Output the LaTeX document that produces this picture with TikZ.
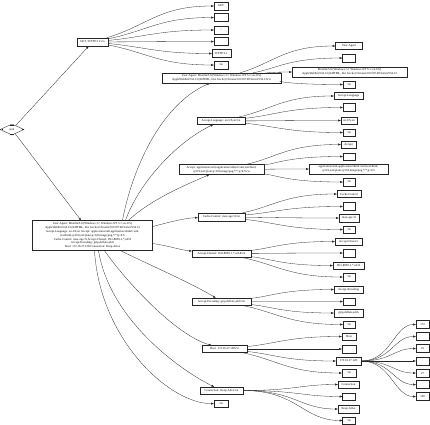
\documentclass[tikz,border=0pt]{standalone}
\usepackage{fontspec}
\setmainfont{Liberation Serif}
\usetikzlibrary{arrows.meta,shapes.geometric,calc}
\newcommand\crlfx{\textbackslash r\textbackslash n}
\newcommand\bx[6]{\node[box,minimum width=#4pt,minimum height=#5pt] (#1) at (#2,#3) {#6};}
\newcommand\conn[2]{\draw[edge] (#1) .. controls ($(#1)!0.45!(#2.west)$) and ($(#2.west)!0.45!(#1 |- #2.west)$) .. (#2.west);}
\newcommand\connh[2]{\draw[edge] (#1.east) .. controls ($(#1.east)!0.55!(#2.west |- #1.east)$) and ($(#2.west)!0.4!(#1.east |- #2.west)$) .. (#2.west);}
\begin{document}
\begin{tikzpicture}[x=1pt,y=-1pt,
  box/.style={draw=black!85, rectangle, line width=0.35pt, inner sep=0.6pt, font=\fontsize{3}{3.8}\selectfont, align=center},
  edge/.style={draw=black!85, line width=0.3pt, -{Triangle[length=2.6pt,width=1.9pt]}}]
\useasboundingbox (0,0) rectangle (430,424);
% root
\node[diamond, draw=black!85, line width=0.35pt, minimum width=24pt, minimum height=11pt, inner sep=0pt, font=\fontsize{3}{3.8}\selectfont] (root) at (12,129.5) {start};
\draw[line width=0.35pt, black!85] ($(root.west)+(2,-0.9)$) -- ($(root.west)+(2,0.9)$);
\draw[line width=0.35pt, black!85] ($(root.east)+(-2,-0.9)$) -- ($(root.east)+(-2,0.9)$);
\draw[line width=0.35pt, black!85] ($(root.north)+(-2.1,1)$) -- ($(root.north)+(2.1,1)$);
\draw[line width=0.35pt, black!85] ($(root.south)+(-2.1,-1)$) -- ($(root.south)+(2.1,-1)$);
% request line
\bx{get}{92.5}{42}{31}{8}{GET / HTTP/1.1\crlfx}
\bx{g1}{221}{6}{14}{8}{GET}
\bx{g2}{221}{17.5}{14}{8}{}
\bx{g3}{221}{30}{14}{8}{/}
\bx{g4}{221}{41.5}{14}{8}{}
\bx{g5}{221.5}{53.5}{19}{8}{HTTP/1.1}
\bx{g6}{221}{65}{14}{8}{\crlfx}
% headers
\bx{hdr}{92.5}{235.5}{120}{30}{User-Agent: Mozilla/5.0 (Windows; U; Windows NT 5.1; en-US)\\
AppleWebKit/534.13 (KHTML, like Gecko) Chrome/9.0.597.98 Safari/534.13\\
Accept-Language: en-US,en Accept: application/xml,application/xhtml+xml,\\
text/html;q=0.9,text/plain;q=0.8,image/png,*/*;q=0.5\\
Cache-Control: max-age=0 Accept-Charset: ISO-8859-1,*,utf-8\\
Accept-Encoding: gzip,deflate,sdch\\
Host: 172.16.27.128 Connection: Keep-Alive}
% rank 2 header nodes
\bx{ua}{221.5}{78}{119}{10}{User-Agent: Mozilla/5.0 (Windows; U; Windows NT 5.1; en-US)\\AppleWebKit/534.13 (KHTML, like Gecko) Chrome/9.0.597.98 Safari/534.13\crlfx}
\bx{al}{221}{121}{48}{7}{Accept-Language: en-US,en\crlfx}
\bx{acc}{221.5}{169.5}{85}{10}{Accept: application/xml,application/xhtml+xml,text/html;\\q=0.9,text/plain;q=0.8,image/png,*/*;q=0.5\crlfx}
\bx{cc}{221.5}{217}{47}{8}{Cache-Control: max-age=0\crlfx}
\bx{achs}{221.5}{253.5}{59}{7}{Accept-Charset: ISO-8859-1,*,utf-8\crlfx}
\bx{ae}{221.5}{301.5}{59}{7}{Accept-Encoding: gzip,deflate,sdch\crlfx}
\bx{host}{224.5}{349}{45}{7}{Host: 172.16.27.128\crlfx}
\bx{cn}{221.5}{390.5}{43}{7}{Connection: Keep-Alive\crlfx}
\bx{hcrlf}{221}{403.5}{14}{7}{\crlfx}
% rank 3
\bx{ua1}{349}{46}{27}{7}{User-Agent}
\bx{ua2}{349}{58}{13}{8}{}
\bx{ua3}{349.5}{72}{115}{10}{Mozilla/5.0 (Windows; U; Windows NT 5.1; en-US)\\AppleWebKit/534.13 (KHTML, like Gecko) Chrome/9.0.597.98 Safari/534.13}
\bx{ua4}{349}{84.5}{12}{7}{\crlfx}
\bx{al1}{348.5}{96}{29}{7}{Accept-Language}
\bx{al2}{349}{107.5}{12}{8}{}
\bx{al3}{349}{120.5}{16}{7}{en-US,en}
\bx{al4}{349}{132.5}{12}{7}{\crlfx}
\bx{ac1}{348.5}{144.5}{15}{7}{Accept}
\bx{ac2}{349}{156.5}{12}{7}{}
\bx{ac3}{348.5}{169}{79}{10}{application/xml,application/xhtml+xml,text/html;\\q=0.9,text/plain;q=0.8,image/png,*/*;q=0.5}
\bx{ac4}{349}{182}{12}{8}{\crlfx}
\bx{cc1}{349}{194}{24}{7}{Cache-Control}
\bx{cc2}{349}{206.5}{12}{8}{}
\bx{cc3}{349}{218}{20}{8}{max-age=0}
\bx{cc4}{349}{229.5}{12}{7}{\crlfx}
\bx{ach1}{348.5}{241.5}{27}{7}{Accept-Charset}
\bx{ach2}{349}{253}{12}{8}{}
\bx{ach3}{348.5}{265.5}{31}{7}{ISO-8859-1,*,utf-8}
\bx{ach4}{349}{277}{12}{8}{\crlfx}
\bx{ae1}{348.5}{289.5}{29}{7}{Accept-Encoding}
\bx{ae2}{349}{301.5}{12}{7}{}
\bx{ae3}{348.5}{313}{29}{8}{gzip,deflate,sdch}
\bx{ae4}{349}{324.5}{12}{7}{\crlfx}
\bx{h1}{349}{336.5}{14}{7}{Host}
\bx{h2}{349}{349}{14}{8}{}
\bx{ip}{348.5}{361}{25}{8}{172.16.27.128}
\bx{h4}{349}{373}{14}{8}{\crlfx}
\bx{cn1}{348.5}{384.5}{21}{7}{Connection}
\bx{cn2}{349}{396.5}{13}{7}{}
\bx{cn3}{348.5}{409}{21}{8}{Keep-Alive}
\bx{cn4}{349}{420.5}{13}{7}{\crlfx}
% rank 4
\bx{ip1}{422.5}{324.5}{13}{8}{172}
\bx{ip2}{422.5}{336.5}{13}{8}{.}
\bx{ip3}{422.5}{348.5}{13}{8}{16}
\bx{ip4}{422.5}{361}{13}{8}{.}
\bx{ip5}{422.5}{373}{13}{8}{27}
\bx{ip6}{422.5}{384.5}{13}{8}{.}
\bx{ip7}{422.5}{396.5}{13}{8}{128}
% edges
\draw[edge] (root) -- (get);
\draw[edge] (root) -- (hdr);
\conn{get}{g1}\conn{get}{g2}\conn{get}{g3}\conn{get}{g4}\conn{get}{g5}\conn{get}{g6}
\draw[edge] ([xshift=30pt]hdr.north) .. controls (132,170) and (160,105) .. (ua);
\draw[edge] ([xshift=33pt]hdr.north) .. controls (140,180) and (180,140) .. (al);
\draw[edge] ([xshift=36pt]hdr.north) .. controls (150,200) and (185,185) .. (acc);
\draw[edge] ([yshift=9pt]hdr.east) .. controls (170,222) and (185,218) .. (cc);
\draw[edge] ([yshift=-8pt]hdr.east) .. controls (170,246) and (180,250) .. (achs);
\draw[edge] ([xshift=28pt]hdr.south) .. controls (150,265) and (195,285) .. (ae);
\draw[edge] ([xshift=12pt]hdr.south) .. controls (125,280) and (175,335) .. (host);
\draw[edge] ([xshift=6pt]hdr.south) .. controls (110,320) and (180,370) .. (cn);
\draw[edge] ([xshift=2pt]hdr.south) .. controls (100,340) and (170,404) .. (hcrlf);
\conn{ua}{ua1}\conn{ua}{ua2}\conn{ua}{ua3}\conn{ua}{ua4}
\conn{al}{al1}\conn{al}{al2}\conn{al}{al3}\conn{al}{al4}
\conn{acc}{ac1}\conn{acc}{ac2}\conn{acc}{ac3}\conn{acc}{ac4}
\conn{cc}{cc1}\conn{cc}{cc2}\conn{cc}{cc3}\conn{cc}{cc4}
\conn{achs}{ach1}\conn{achs}{ach2}\conn{achs}{ach3}\conn{achs}{ach4}
\conn{ae}{ae1}\conn{ae}{ae2}\conn{ae}{ae3}\conn{ae}{ae4}
\conn{host}{h1}\conn{host}{h2}\conn{host}{ip}\conn{host}{h4}
\connh{ip}{ip1}\connh{ip}{ip2}\connh{ip}{ip3}\connh{ip}{ip4}\connh{ip}{ip5}\connh{ip}{ip6}\connh{ip}{ip7}
\connh{cn}{cn1}\connh{cn}{cn2}\connh{cn}{cn3}\connh{cn}{cn4}
\end{tikzpicture}
\end{document}
